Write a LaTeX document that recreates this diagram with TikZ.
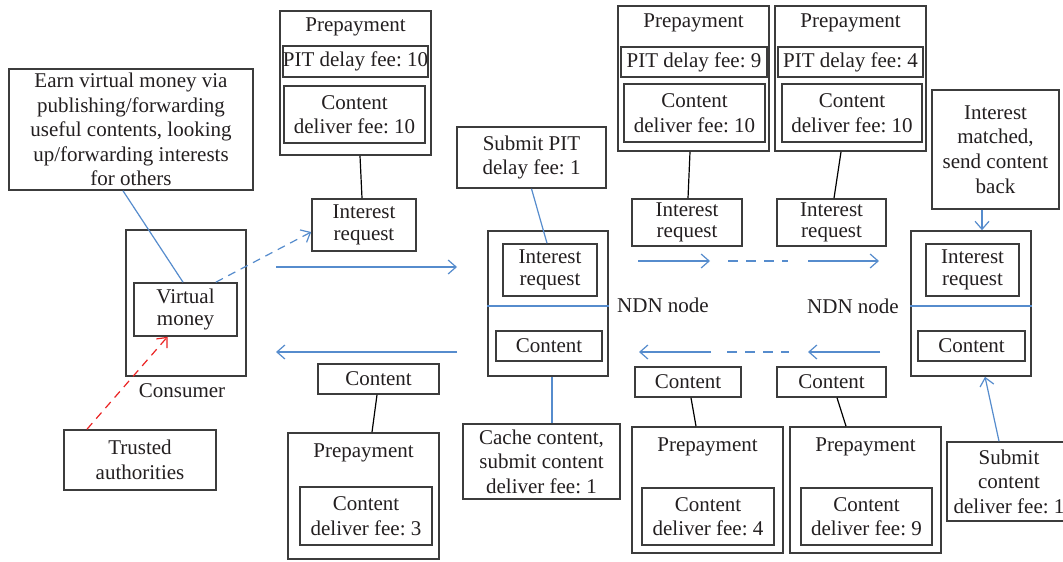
\documentclass[tikz,border=0pt]{standalone}
\usepackage{fontspec}
\setmainfont{Liberation Serif}
\usepackage{tikz}
\usetikzlibrary{arrows.meta,positioning}
\definecolor{boxgray}{RGB}{60,60,60}
\definecolor{inkgray}{RGB}{35,31,32}
\definecolor{linkblue}{RGB}{86,140,205}
\definecolor{trustred}{RGB}{235,35,35}
\frenchspacing

\begin{document}
\begin{tikzpicture}[x=0.5pt,y=-0.5pt,
  font=\fontsize{10.5}{12.3}\selectfont,text=inkgray,
  box/.style={draw=boxgray,line width=0.8pt,align=center,inner sep=0.5pt},
  lbl/.style={inner sep=0pt},
  link/.style={draw=linkblue,line width=0.6pt},
  arr/.style={link,-{Straight Barb[length=4pt,width=7pt]}},
  gap/.style={link,dash pattern=on 5pt off 4pt},
  tie/.style={draw=black,line width=0.6pt}]
  \useasboundingbox[fill=white] (0,0) rectangle (1063,561);

  % consumer
  \node[box,minimum width=122pt,minimum height=60.5pt] (earn) at (131,129.5)
    {Earn virtual money via\\publishing/forwarding\\useful contents, looking\\up/forwarding interests\\for others};
  \node[box,minimum width=60pt,minimum height=73pt] (consumer) at (186,303) {};
  \node[box,minimum width=51.5pt,minimum height=26.5pt] (vm) at (185.5,309.5) {Virtual\\[-1.5pt]money};
  \node[lbl] (consumerlbl) at (182,391) {Consumer};
  \node[box,minimum width=76pt,minimum height=30pt] (trusted) at (140,460) {Trusted\\authorities};

  % first hop
  \node[box,minimum width=75.5pt,minimum height=72pt] (prep1) at (355.5,83) {};
  \node[lbl] (prep1t) at (355.5,27) {Prepayment};
  \node[box,minimum width=72.5pt,minimum height=15.5pt,inner xsep=0pt] (pit1) at (355.5,61.5) {PIT delay fee: 10};
  \node[box,minimum width=70.5pt,minimum height=28.5pt] (cdf1) at (354.5,114.5) {Content\\deliver fee: 10};
  \node[box,minimum width=52pt,minimum height=26pt] (int1) at (364,225) {Interest\\[-1.5pt]request};
  \node[box,minimum width=60.5pt,minimum height=15pt] (cont1) at (378.5,379) {Content};
  \node[box,minimum width=75.5pt,minimum height=63pt] (prep5) at (363.5,496) {};
  \node[lbl] (prep5t) at (363.5,453) {Prepayment};
  \node[box,minimum width=66pt,minimum height=29pt] (cdf5) at (366,516) {Content\\deliver fee: 3};

  % NDN node 1
  \node[box,minimum width=74.5pt,minimum height=30.5pt] (subpit) at (531.5,157.5) {Submit PIT\\delay fee: 1};
  \node[box,minimum width=60pt,minimum height=72.5pt] (ndn1) at (548,303.5) {};
  \node[box,minimum width=47pt,minimum height=26pt] (ir1) at (550,270) {Interest\\[-1.5pt]request};
  \node[box,minimum width=53pt,minimum height=15pt] (ct1) at (549,346) {Content};
  \node[lbl] (ndn1lbl) at (663,305) {NDN node};
  \node[box,minimum width=78.5pt,minimum height=37.5pt] (cache) at (541.5,461.5)
    {Cache content,\\submit content\\deliver fee: 1};

  % relays
  \node[box,minimum width=75.5pt,minimum height=72.5pt] (prep2) at (693.5,78.5) {};
  \node[lbl] (prep2t) at (693.5,23) {Prepayment};
  \node[box,minimum width=73pt,minimum height=15pt,inner xsep=0pt] (pit2) at (694,62) {PIT delay fee: 9};
  \node[box,minimum width=70.5pt,minimum height=29pt] (cdf2) at (694.5,113) {Content\\deliver fee: 10};
  \node[box,minimum width=75.5pt,minimum height=72.5pt] (prep3) at (850.5,78.5) {};
  \node[lbl] (prep3t) at (850.5,23) {Prepayment};
  \node[box,minimum width=72.5pt,minimum height=15pt,inner xsep=0pt] (pit3) at (850.5,62) {PIT delay fee: 4};
  \node[box,minimum width=70pt,minimum height=29pt] (cdf3) at (852,113) {Content\\deliver fee: 10};
  \node[box,minimum width=55pt,minimum height=23.5pt] (int2) at (687,222.5) {Interest\\[-1.5pt]request};
  \node[box,minimum width=54.5pt,minimum height=23.5pt] (int3) at (831.5,222.5) {Interest\\[-1.5pt]request};
  \node[box,minimum width=53pt,minimum height=15pt] (cont2) at (688,382) {Content};
  \node[box,minimum width=54.5pt,minimum height=15pt] (cont3) at (831.5,382) {Content};
  \node[box,minimum width=75.5pt,minimum height=63pt] (prep6) at (707.5,490) {};
  \node[lbl] (prep6t) at (707.5,447) {Prepayment};
  \node[box,minimum width=66pt,minimum height=28.5pt] (cdf6) at (708,516.5) {Content\\deliver fee: 4};
  \node[box,minimum width=75.5pt,minimum height=63pt] (prep7) at (865.5,490) {};
  \node[lbl] (prep7t) at (865.5,447) {Prepayment};
  \node[box,minimum width=65.5pt,minimum height=28.5pt] (cdf7) at (866.5,516.5) {Content\\deliver fee: 9};

  % NDN node 2
  \node[box,minimum width=63.5pt,minimum height=59.5pt] (matched) at (995.5,149.5)
    {Interest\\matched,\\send content\\back};
  \node[box,minimum width=60pt,minimum height=72.5pt] (ndn2) at (971,303.5) {};
  \node[box,minimum width=46.5pt,minimum height=26pt] (ir2) at (972.5,270) {Interest\\[-1.5pt]request};
  \node[box,minimum width=53.5pt,minimum height=15pt] (ct2) at (971.5,346) {Content};
  \node[lbl] (ndn2lbl) at (853,306) {NDN node};
  \node[box,minimum width=62pt,minimum height=39.5pt] (subcdf) at (1009,481.5)
    {Submit\\content\\deliver fee: 1};

  % flow arrows
  \coordinate (r1) at (276,267); \coordinate (r2) at (457,267);
  \coordinate (l1) at (457,352); \coordinate (l2) at (276,352);
  \coordinate (f1) at (638,261); \coordinate (f2) at (710,261);
  \coordinate (f3) at (728,261); \coordinate (f4) at (788,261);
  \coordinate (f5) at (808,261); \coordinate (f6) at (879,261);
  \coordinate (b1) at (711,352); \coordinate (b2) at (639,352);
  \coordinate (b3) at (727,352); \coordinate (b4) at (789,352);
  \coordinate (b5) at (880,352); \coordinate (b6) at (808,352);
  \draw[arr] (r1) -- (r2);
  \draw[arr] (l1) -- (l2);
  \draw[arr] (f1) -- (f2);
  \draw[gap] (f3) -- (f4);
  \draw[arr] (f5) -- (f6);
  \draw[arr] (b1) -- (b2);
  \draw[gap] (b3) -- (b4);
  \draw[arr] (b5) -- (b6);

  % node dividers
  \draw[link] ([yshift=-1.25pt]ndn1.west) -- ([yshift=-1.25pt]ndn1.east);
  \draw[link] ([yshift=-1.25pt]ndn2.west) -- ([yshift=-1.25pt]ndn2.east);

  % connectors
  \draw[link] ([xshift=-4pt]earn.south) -- ([xshift=-1.25pt]vm.north);
  \draw[arr,dash pattern=on 4pt off 3pt] ([xshift=-11pt]vm.north east) -- ([yshift=-3.5pt]int1.west);
  \draw[trustred,line width=0.6pt,dash pattern=on 4pt off 3pt,-{Straight Barb[length=4pt,width=7pt]}]
    ([xshift=-26.5pt]trusted.north) -- ([xshift=-9pt]vm.south);
  \draw[tie] ([xshift=2.25pt]prep1.south) -- ([xshift=-1pt]int1.north);
  \draw[link] (subpit.south) -- ([xshift=-1.5pt]ir1.north);
  \draw[tie] ([xshift=-1.75pt]prep2.south) -- ([xshift=0.5pt]int2.north);
  \draw[tie] ([xshift=-4.75pt]prep3.south) -- ([xshift=1.25pt]int3.north);
  \draw[arr] ([xshift=-6.75pt]matched.south) -- ([xshift=5.5pt]ndn2.north);
  \draw[link] ([xshift=2pt]ndn1.south) -- ([xshift=5.25pt]cache.north);
  \draw[tie] ([xshift=-0.75pt]cont1.south) -- ([xshift=4.25pt]prep5.north);
  \draw[tie] ([xshift=1.5pt]cont2.south) -- ([xshift=-5.75pt]prep6.north);
  \draw[tie] ([xshift=2.75pt]cont3.south) -- ([xshift=-9.75pt]prep7.north);
  \draw[arr] ([xshift=-5pt]subcdf.north) -- ([xshift=7pt]ndn2.south);
\end{tikzpicture}
\end{document}
